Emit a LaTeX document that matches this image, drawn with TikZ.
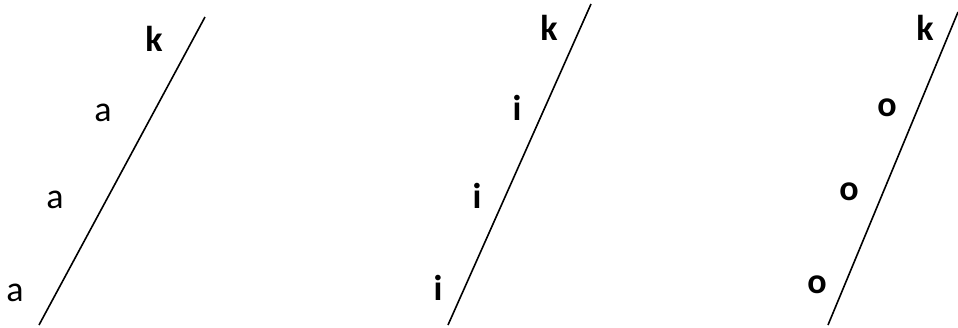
\documentclass[tikz,border=0pt]{standalone}
\usepackage{fontspec}
\setmainfont{Carlito}
\begin{document}
\begin{tikzpicture}[x=1pt,y=-1pt,
  lbl/.style={inner sep=0pt,font=\fontsize{36}{42}\selectfont},
  blbl/.style={lbl,font=\fontsize{36}{42}\selectfont\bfseries},
  ln/.style={line width=1.6pt}]
\useasboundingbox (0,0) rectangle (958,327);
% panel 1
\coordinate (a1) at (39,325);
\coordinate (a2) at (205,17);
\draw[ln] (a1) -- (a2);
\node[blbl] (k1) at (154,39) {k};
\node[lbl] (aa1) at (103,113) {a};
\node[lbl] (aa2) at (55,200) {a};
\node[lbl] (aa3) at (15,293) {a};
% panel 2
\coordinate (b1) at (448,325);
\coordinate (b2) at (591,4);
\draw[ln] (b1) -- (b2);
\node[blbl] (k2) at (549,28) {k};
\node[blbl] (i1) at (517,108) {i};
\node[blbl] (i2) at (477,196) {i};
\node[blbl] (i3) at (438,288) {i};
% panel 3
\coordinate (c1) at (828,325);
\coordinate (c2) at (958,12);
\draw[ln] (c1) -- (c2);
\node[blbl] (k3) at (925,28) {k};
\node[blbl] (o1) at (887,108) {o};
\node[blbl] (o2) at (849,192) {o};
\node[blbl] (o3) at (817,285) {o};
\end{tikzpicture}
\end{document}
